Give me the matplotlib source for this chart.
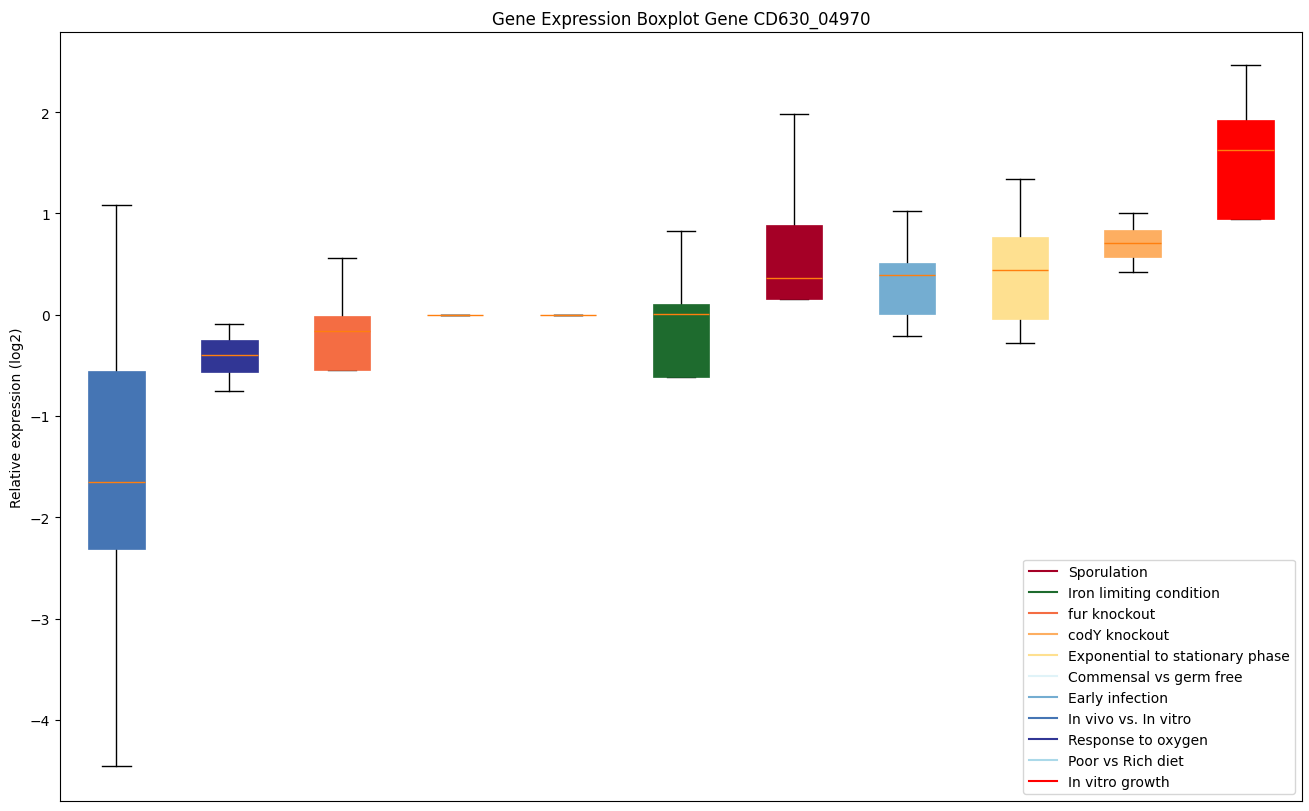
import matplotlib
matplotlib.use('Agg')
import matplotlib.pyplot as plt
from matplotlib.lines import Line2D

# boxplot stats (log2 relative expression)
conditions = ["In vivo vs. In vitro", "Response to oxygen", "fur knockout",
              "Commensal vs germ free", "Poor vs Rich diet", "Iron limiting condition",
              "Sporulation", "Early infection", "Exponential to stationary phase",
              "codY knockout", "In vitro growth"]
whislo = [-4.45, -0.75, -0.55, 0.0, 0.0, -0.62, 0.15, -0.21, -0.28, 0.42, 0.94]
q1 = [-2.31, -0.57, -0.55, 0.0, 0.0, -0.62, 0.15, 0.01, -0.04, 0.57, 0.94]
med = [-1.65, -0.40, -0.16, 0.0, 0.0, 0.01, 0.36, 0.39, 0.44, 0.71, 1.63]
q3 = [-0.56, -0.25, -0.01, 0.0, 0.0, 0.11, 0.88, 0.51, 0.77, 0.84, 1.92]
whishi = [1.08, -0.09, 0.56, 0.0, 0.0, 0.83, 1.98, 1.02, 1.34, 1.00, 2.46]

colors = {
    "Sporulation": "#a50026",
    "Iron limiting condition": "#1e6b2e",
    "fur knockout": "#f46d43",
    "codY knockout": "#fdae61",
    "Exponential to stationary phase": "#fee090",
    "Commensal vs germ free": "#e0f3f8",
    "Early infection": "#74add1",
    "In vivo vs. In vitro": "#4575b4",
    "Response to oxygen": "#313695",
    "Poor vs Rich diet": "#abd9e9",
    "In vitro growth": "#ff0000",
}

stats = []
for i in range(len(conditions)):
    stats.append({"label": conditions[i], "whislo": whislo[i], "q1": q1[i],
                  "med": med[i], "q3": q3[i], "whishi": whishi[i], "fliers": []})

fig = plt.figure(figsize=(13.09, 8.12), dpi=100)
ax = fig.add_axes([0.0458, 0.0123, 0.9489, 0.9471])

bp = ax.bxp(stats, positions=range(1, len(stats) + 1), widths=0.5,
            patch_artist=True, showfliers=False,
            boxprops=dict(zorder=2.2),
            medianprops=dict(color="#ff7f0e", linewidth=1, zorder=2.3),
            whiskerprops=dict(color="black"), capprops=dict(color="black"))
for box, cond in zip(bp["boxes"], conditions):
    box.set_facecolor(colors[cond])
    box.set_edgecolor(colors[cond])
    box.set_linewidth(0.5)

ax.set_xlim(0.5, len(stats) + 0.5)
ax.set_ylim(-4.80, 2.79)
ax.set_xticks([])
ax.set_yticks([-4, -3, -2, -1, 0, 1, 2])
ax.set_title("Gene Expression Boxplot Gene CD630_04970")
ax.set_ylabel("Relative expression (log2)")

handles = [Line2D([0], [0], color=c) for c in colors.values()]
ax.legend(handles, list(colors.keys()), loc="lower right")

fig.savefig("out.png", dpi=100)
